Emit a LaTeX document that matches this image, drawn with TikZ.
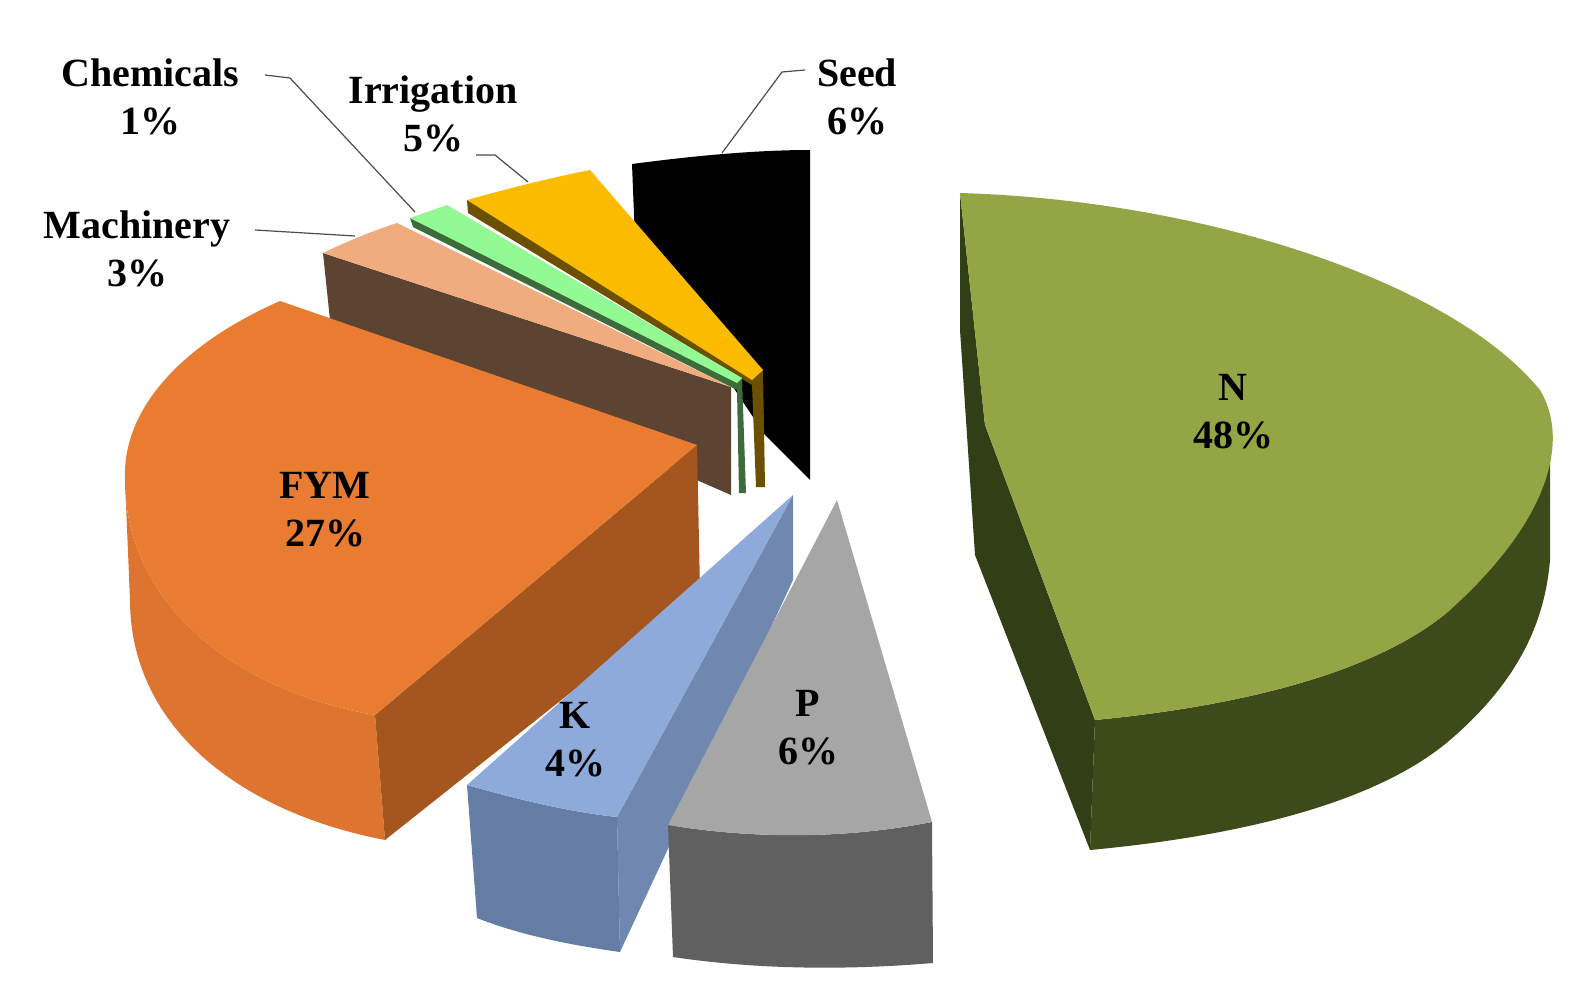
\documentclass[tikz,border=0pt]{standalone}
\usepackage{fontspec}
\setmainfont{Liberation Serif}
\begin{document}
\begin{tikzpicture}[x=1pt,y=-1pt,
  lbl/.style={font=\fontsize{40}{44}\selectfont\bfseries,align=center,inner sep=0pt},
  leader/.style={draw=black!70,line width=1.2pt}]
\useasboundingbox (0,0) rectangle (1588,996);
% N
\fill[fill={rgb,255:red,61;green,74;blue,26}] (1550,440) .. controls (1545,480) and (1530,520) .. (1450,610) .. controls (1380,670) and (1250,705) .. (1095,720) -- (1090,850) .. controls (1250,835) and (1380,800) .. (1450,740) .. controls (1520,680) and (1545,620) .. (1550,560) -- cycle;
\fill[fill={rgb,255:red,50;green,62;blue,22}] (960,193) -- (985,425) -- (1095,720) -- (1090,850) -- (975,555) -- (960,330) -- cycle;
\fill[fill={rgb,255:red,148;green,165;blue,69}] (960,193) .. controls (1200,200) and (1450,280) .. (1540,390) .. controls (1570,440) and (1550,520) .. (1450,610) .. controls (1380,670) and (1250,705) .. (1095,720) -- (985,425) -- cycle;
% Seed
\fill[black] (632,164) .. controls (700,155) and (760,150) .. (810,150) -- (810,480) -- (765,435) -- (635,240) -- cycle;
% Irrigation
\fill[fill={rgb,255:red,107;green,80;blue,0}] (467,200) -- (468,213) -- (752,385) -- (756,487) -- (765,487) -- (763,370) -- cycle;
\fill[fill={rgb,255:red,251;green,188;blue,0}] (467,200) .. controls (510,188) and (550,178) .. (590,170) -- (763,370) -- (752,380) -- cycle;
% Chemicals
\fill[fill={rgb,255:red,61;green,107;blue,60}] (410,218) -- (413,227) -- (737,390) -- (739,493) -- (746,493) -- (742,378) -- cycle;
\fill[fill={rgb,255:red,147;green,249;blue,148}] (410,218) -- (447,205) -- (742,378) -- (737,383) -- cycle;
% Machinery
\fill[fill={rgb,255:red,92;green,67;blue,50}] (323,253) -- (330,320) -- (731,495) -- (731,387) -- cycle;
\fill[fill={rgb,255:red,240;green,172;blue,126}] (323,253) .. controls (350,240) and (375,230) .. (397,223) -- (731,387) -- cycle;
% FYM
\fill[fill={rgb,255:red,221;green,117;blue,48}] (125,480) .. controls (125,600) and (230,690) .. (375,715) -- (385,840) .. controls (230,810) and (130,720) .. (130,600) -- cycle;
\fill[fill={rgb,255:red,165;green,86;blue,31}] (375,715) -- (697,445) -- (700,590) -- (385,840) -- cycle;
\fill[fill={rgb,255:red,233;green,124;blue,48}] (280,301) .. controls (180,345) and (122,410) .. (125,480) .. controls (125,600) and (230,690) .. (375,715) -- (697,445) -- cycle;
% K
\fill[fill={rgb,255:red,112;green,135;blue,176}] (793,495) -- (793,580) -- (620,952) -- (617,817) -- cycle;
\fill[fill={rgb,255:red,101;green,124;blue,164}] (467,785) .. controls (520,800) and (570,812) .. (617,817) -- (620,952) .. controls (570,945) and (520,935) .. (477,918) -- cycle;
\fill[fill={rgb,255:red,142;green,170;blue,219}] (467,785) .. controls (520,800) and (570,812) .. (617,817) -- (793,495) -- cycle;
% P
\fill[fill={rgb,255:red,96;green,96;blue,96}] (668,825) .. controls (760,840) and (850,838) .. (932,822) -- (933,963) .. controls (850,970) and (760,970) .. (673,957) -- cycle;
\fill[fill={rgb,255:red,166;green,166;blue,166}] (668,825) .. controls (760,840) and (850,838) .. (932,822) -- (837,500) -- cycle;
% labels
\node[lbl] (tn) at (1233,412) {N\\[4pt]48\%};
\node[lbl] (tf) at (325,510) {FYM\\[4pt]27\%};
\node[lbl] (tk) at (575,740) {K\\[4pt]4\%};
\node[lbl] (tp) at (808,728) {P\\[4pt]6\%};
\node[lbl] (tc) at (150,97) {Chemicals\\[4pt]1\%};
\node[lbl] (ti) at (433,114) {Irrigation\\[4pt]5\%};
\node[lbl] (ts) at (857,97) {Seed\\[4pt]6\%};
\node[lbl] (tm) at (137,249) {Machinery\\[4pt]3\%};
\coordinate (c1) at (290,78); \coordinate (c2) at (415,212);
\coordinate (i1) at (495,155); \coordinate (i2) at (528,182);
\coordinate (s1) at (782,72); \coordinate (s2) at (722,153);
\coordinate (m1) at (255,230); \coordinate (m2) at (355,236);
\draw[leader] (265,75) -- (c1) -- (c2);
\draw[leader] (476,155) -- (i1) -- (i2);
\draw[leader] (805,70) -- (s1) -- (s2);
\draw[leader] (m1) -- (m2);
\end{tikzpicture}
\end{document}
